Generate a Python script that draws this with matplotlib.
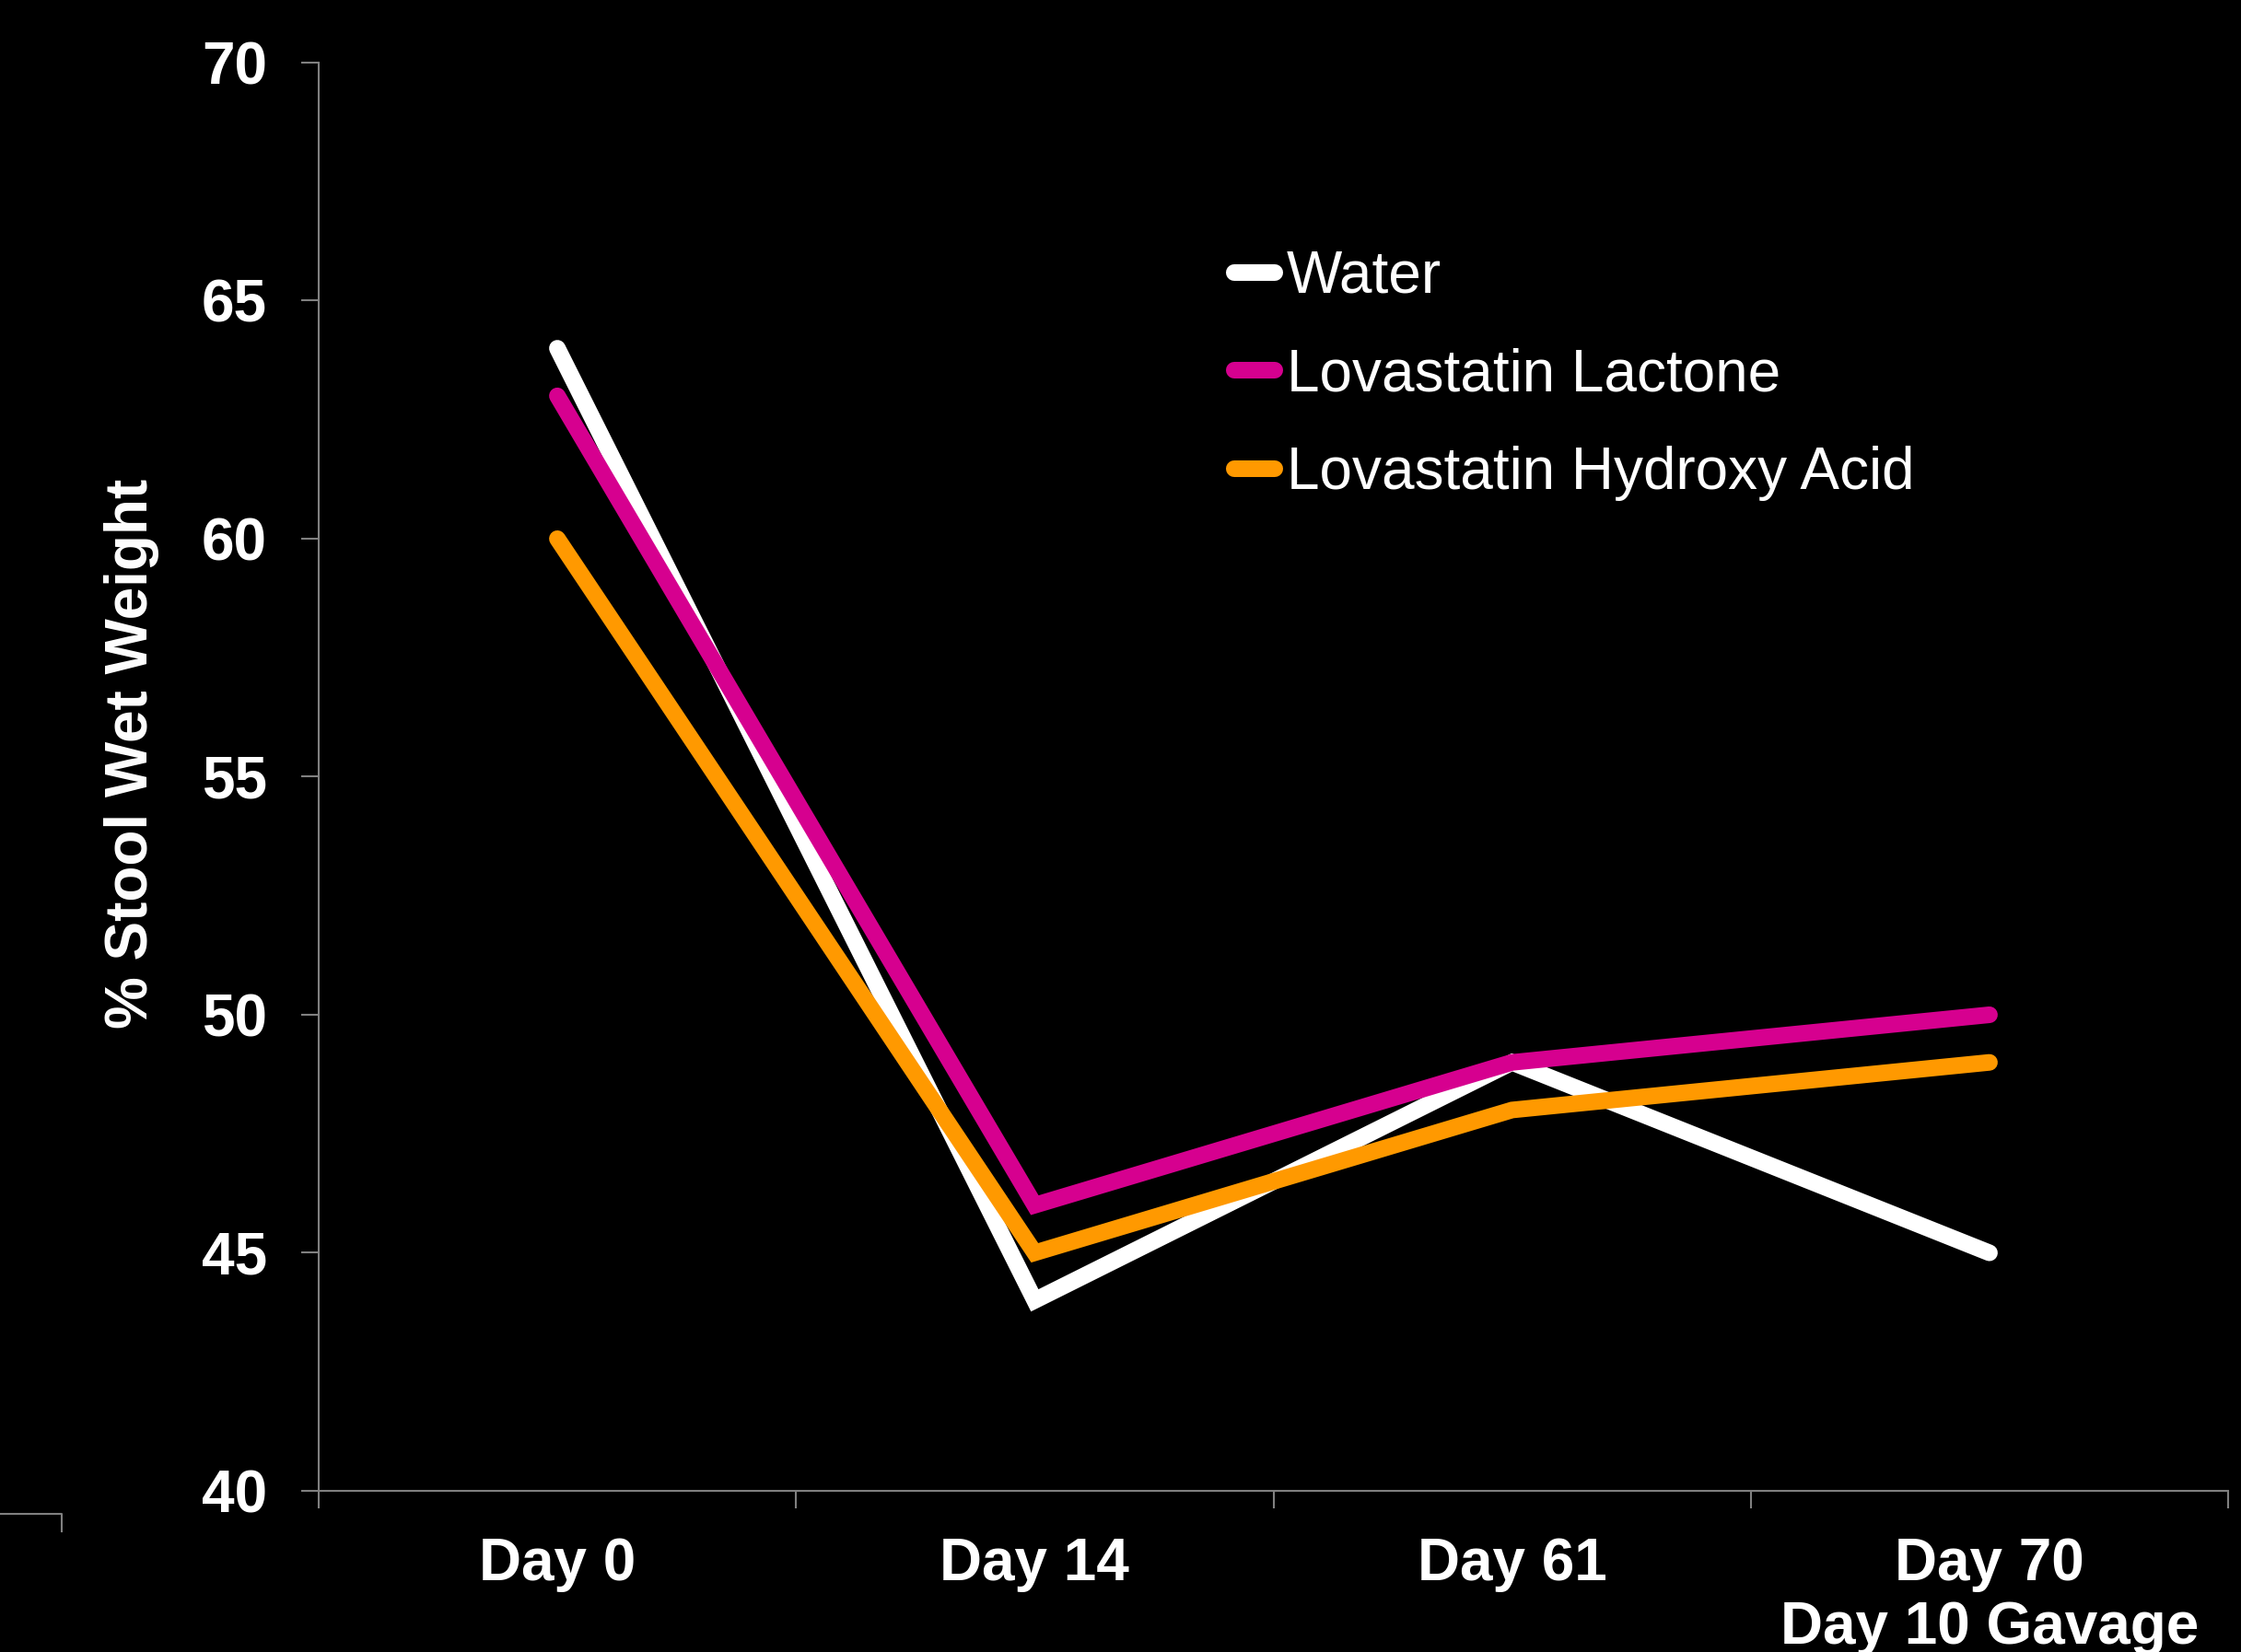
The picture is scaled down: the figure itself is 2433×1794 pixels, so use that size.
import numpy as np
import matplotlib.pyplot as plt
from matplotlib.lines import Line2D

# values
days = ['Day 0', 'Day 14', 'Day 61', 'Day 70\nDay 10 Gavage']
water = [64, 44, 49, 45]
lactone = [63, 46, 49, 50]
hydroxy = [60, 45, 48, 49]
series_names = ['Water', 'Lovastatin Lactone', 'Lovastatin Hydroxy Acid']
series_colors = ['#ffffff', '#d6008f', '#ff9900']

W, H = 2433, 1794
fig = plt.figure(figsize=(W / 100, H / 100), dpi=100, facecolor='black')
ax = fig.add_axes([346 / W, 1 - 1619 / H, (2419 - 346) / W, (1619 - 68) / H])
ax.set_facecolor('black')

x = np.arange(len(days))
for vals, name, col in zip([water, lactone, hydroxy], series_names, series_colors):
    ax.plot(x, vals, color=col, lw=13, solid_capstyle='round',
            solid_joinstyle='miter', label=name)

ax.set_xlim(-0.5, 3.5)
ax.set_ylim(40, 70)
ax.set_yticks(range(40, 71, 5))
ax.set_xticks(np.arange(-0.5, 4, 1))
ax.set_xticklabels([])
ax.set_xticks(x, minor=True)
ax.set_xticklabels(days, minor=True, linespacing=1.2)

for s in ['top', 'right']:
    ax.spines[s].set_visible(False)
for s in ['left', 'bottom']:
    ax.spines[s].set_color('#808080')
    ax.spines[s].set_linewidth(1.5)

bold = {'family': 'Liberation Sans', 'weight': 'bold', 'size': 46}
ax.tick_params(axis='both', which='major', direction='out', length=13.5,
               width=1.5, color='#808080')
ax.tick_params(axis='y', pad=27, labelcolor='white')
ax.tick_params(axis='x', which='minor', length=0, pad=36, labelcolor='white')
for lab in ax.get_yticklabels() + ax.get_xticklabels(minor=True):
    lab.set_fontproperties(bold)

fig.text(143 / W, 1 - 818 / H, '% Stool Wet Weight', rotation=90, color='white',
         ha='center', va='center', fontdict=bold)

leg = ax.legend(loc='upper left', bbox_to_anchor=(1340 / W, 1 - 271 / H),
                bbox_transform=fig.transFigure, frameon=False,
                handlelength=0.69, handletextpad=0.2, labelspacing=0.73,
                borderpad=0, borderaxespad=0,
                prop={'family': 'Liberation Sans', 'size': 46})
for t in leg.get_texts():
    t.set_color('white')
for h in leg.get_lines():
    h.set_linewidth(13)
    h.set_solid_capstyle('round')

# stray axis fragment in the lower left corner
fig.add_artist(Line2D([0, 67 / W, 67 / W], [1 - 1644 / H, 1 - 1644 / H, 1 - 1663 / H],
                      color='#808080', lw=1.5, transform=fig.transFigure))

fig.savefig('out.png', dpi=100, facecolor='black')
